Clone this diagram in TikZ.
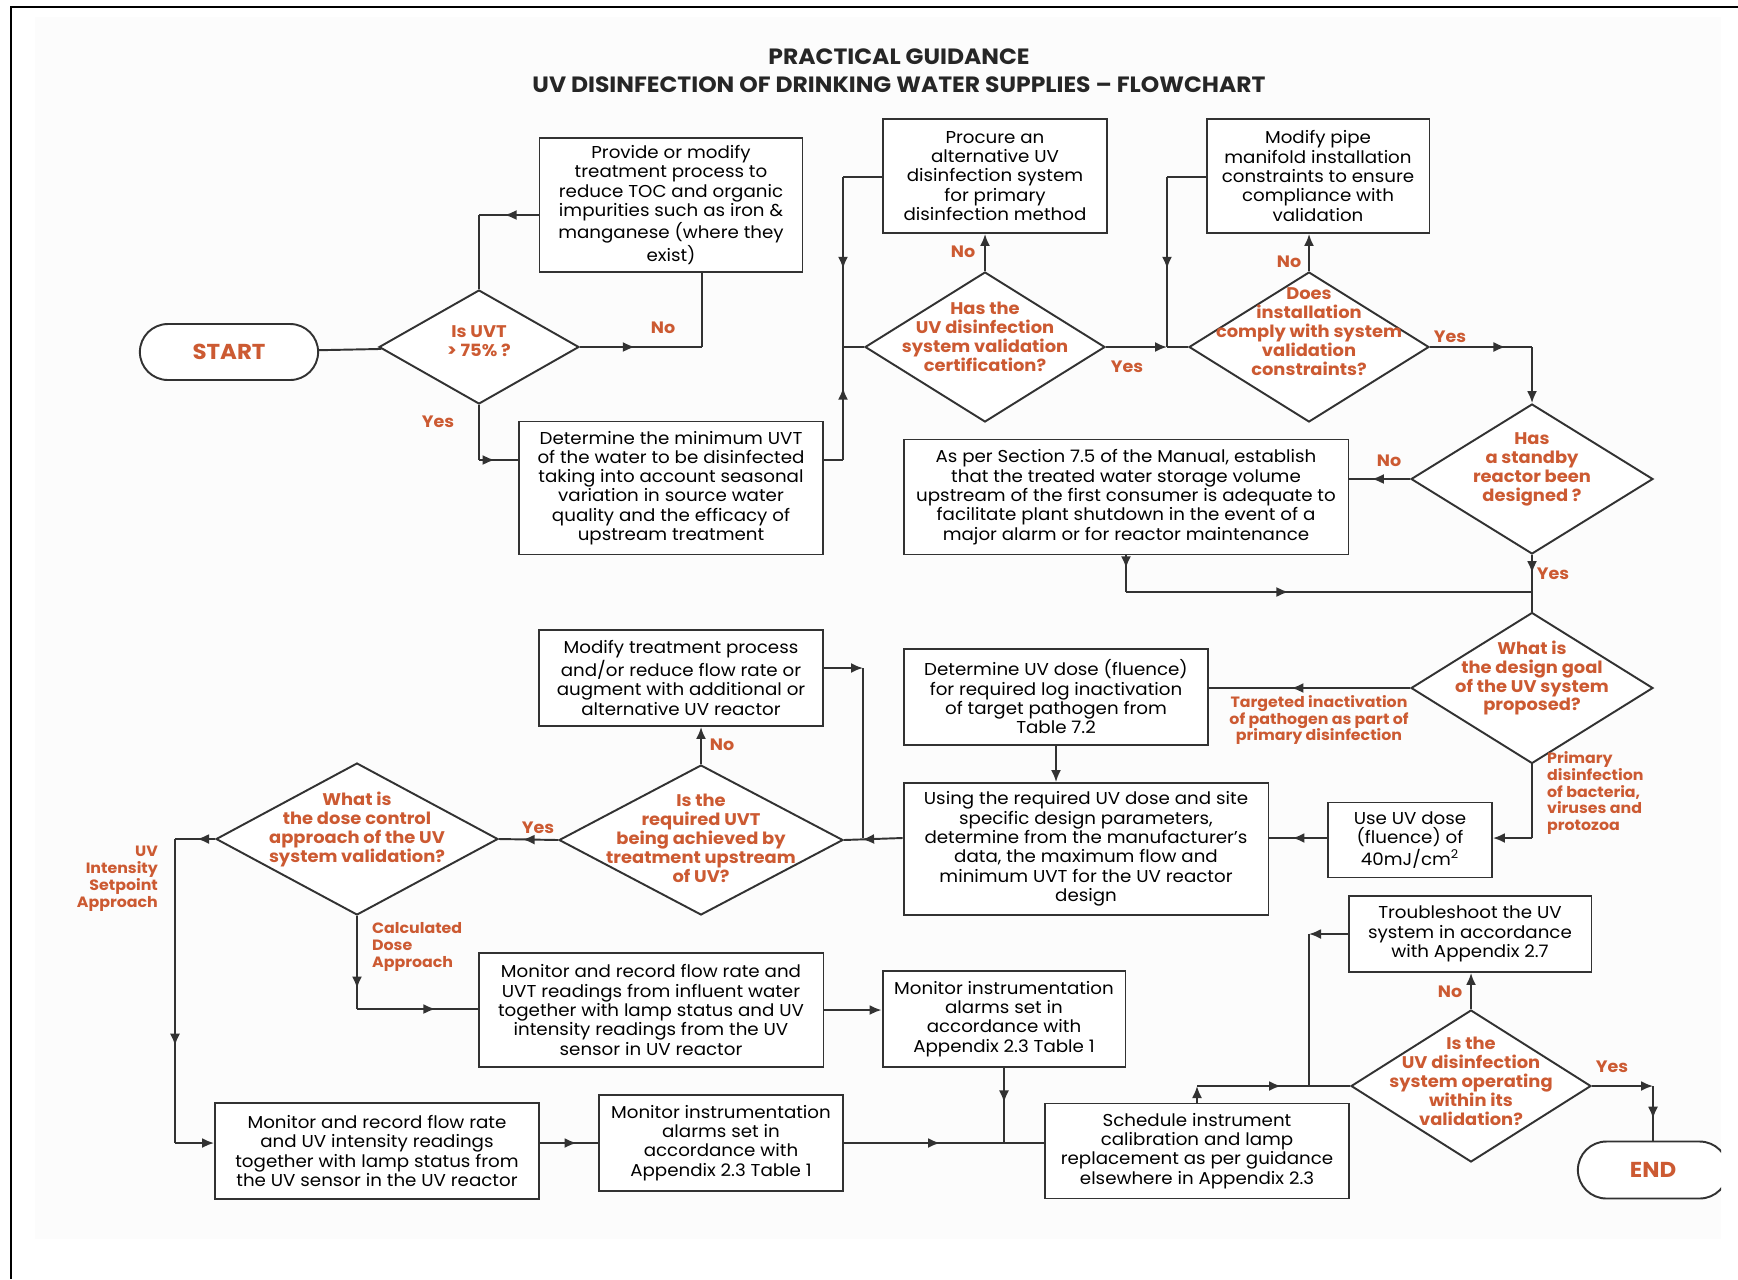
\documentclass[tikz,border=0pt]{standalone}
\usepackage{fontspec}
\setmainfont{Poppins}[FakeStretch=1.06]
\usepackage{tikz}
\usetikzlibrary{arrows.meta,positioning,shapes.geometric,shapes.misc,decorations.markings,calc}
\definecolor{uvorange}{RGB}{204,90,50}
\definecolor{uvline}{RGB}{50,50,50}

\begin{document}
\begin{tikzpicture}[x=0.02cm, y=-0.02cm,
    block/.style={rectangle, draw=uvline, line width=1.1pt, fill=white, inner sep=2pt, align=center, text=black, font=\fontsize{9.8}{11}\selectfont},
    decide/.style={diamond, draw=uvline, line width=1.1pt, fill=white, inner sep=0pt},
    ask/.style={align=center, text=uvorange, inner sep=0pt, font=\fontsize{9.6}{10.8}\selectfont\bfseries},
    term/.style={rounded rectangle, draw=uvline, line width=1.1pt, fill=white, text=uvorange, font=\fontsize{12.3}{15}\selectfont\bfseries},
    heading/.style={align=center, text=black!85, font=\fontsize{12.6}{16}\selectfont\bfseries},
    lab/.style={text=uvorange, inner sep=1pt, font=\fontsize{9.4}{11}\selectfont\bfseries},
    note/.style={text=uvorange, inner sep=1pt, font=\fontsize{8.5}{9.6}\selectfont\bfseries},
    link/.style={draw=uvline, line width=1.1pt},
    arrow/.style={link, -{Latex[length=2.4mm,width=2mm]}},
    midarrow/.style={link, postaction={decorate}, decoration={markings, mark=at position #1 with {\arrow{Latex[length=2.4mm,width=2mm]}}}},
    midarrow/.default=0.5
]
\useasboundingbox (0,0) rectangle (1738,1279);
\fill[black!1] (35,17) rectangle (1721,1239);
\draw[line width=1.4pt] (1738,7) -- (11,7) -- (11,1279);

\node[heading] (head) at (899,71) {PRACTICAL GUIDANCE\\UV DISINFECTION OF DRINKING WATER SUPPLIES -- FLOWCHART};

% top row
\node[term, minimum width=3.8cm, minimum height=1.12cm] (start) at (229,352) {START};
\node[decide, minimum width=4cm, minimum height=2.28cm] (uvt) at (479,347) {};
\node[ask] (uvt-q) at (479,341) {Is UVT\\> 75\% ?};
\node[block, minimum width=5.26cm, minimum height=2.68cm] (reduce) at (671,205) {Provide or modify\\treatment process to\\reduce TOC and organic\\impurities such as iron \&\\manganese (where they\\exist)};
\node[block, minimum width=6.08cm, minimum height=2.66cm] (minuvt) at (671,488) {Determine the minimum UVT\\of the water to be disinfected\\taking into account seasonal\\variation in source water\\quality and the efficacy of\\upstream treatment};
\node[block, minimum width=4.48cm, minimum height=2.28cm] (procure) at (995,176) {Procure an\\alternative UV\\disinfection system\\for primary\\disinfection method};
\node[decide, minimum width=4.8cm, minimum height=3cm] (cert) at (985,347) {};
\node[ask] (cert-q) at (985,337) {Has the\\UV disinfection\\system validation\\certification?};
\node[block, minimum width=4.46cm, minimum height=2.28cm] (pipe) at (1318,176) {Modify pipe\\manifold installation\\constraints to ensure\\compliance with\\validation};
\node[decide, minimum width=4.8cm, minimum height=3cm] (comply) at (1309,347) {};
\node[ask] (comply-q) at (1309,332) {Does\\installation\\comply with system\\validation\\constraints?};

% standby and design goal
\node[decide, minimum width=4.84cm, minimum height=3cm] (standby) at (1532,479) {};
\node[ask] (standby-q) at (1532,469) {Has\\a standby\\reactor been\\designed ?};
\node[block, minimum width=8.9cm, minimum height=2.3cm] (storage) at (1126,497) {As per Section 7.5 of the Manual, establish\\that the treated water storage volume\\upstream of the first consumer is adequate to\\facilitate plant shutdown in the event of a\\major alarm or for reactor maintenance};
\node[decide, minimum width=4.84cm, minimum height=3.02cm] (goal) at (1532,688) {};
\node[ask] (goal-q) at (1532,678) {What is\\the design goal\\of the UV system\\proposed?};
\node[block, minimum width=6.08cm, minimum height=1.92cm] (dose) at (1056,697) {Determine UV dose (fluence)\\for required log inactivation\\of target pathogen from\\Table 7.2};
\node[block, minimum width=3.28cm, minimum height=1.5cm] (fixed) at (1410,840) {Use UV dose\\(fluence) of\\40mJ/cm\textsuperscript{2}};
\node[block, minimum width=7.3cm, minimum height=2.64cm] (design) at (1086,849) {Using the required UV dose and site\\specific design parameters,\\determine from the manufacturer's\\data, the maximum flow and\\minimum UVT for the UV reactor\\design};

% dose control
\node[block, minimum width=5.68cm, minimum height=1.92cm] (modify) at (681,678) {Modify treatment process\\and/or reduce flow rate or\\augment with additional or\\alternative UV reactor};
\node[decide, minimum width=5.68cm, minimum height=3cm] (uvtreq) at (701,840) {};
\node[ask] (uvtreq-q) at (701,838) {Is the\\required UVT\\being achieved by\\treatment upstream\\of UV?};
\node[decide, minimum width=5.64cm, minimum height=3.04cm] (dosectl) at (357,839) {};
\node[ask] (dosectl-q) at (357,829) {What is\\the dose control\\approach of the UV\\system validation?};
\node[block, minimum width=6.9cm, minimum height=2.28cm] (monuvt) at (651,1010) {Monitor and record flow rate and\\UVT readings from influent water\\together with lamp status and UV\\intensity readings from the UV\\sensor in UV reactor};
\node[block, minimum width=6.48cm, minimum height=1.92cm] (monint) at (377,1151) {Monitor and record flow rate\\and UV intensity readings\\together with lamp status from\\the UV sensor in the UV reactor};
\node[block, minimum width=4.86cm, minimum height=1.92cm] (alarmA) at (1004,1019) {Monitor instrumentation\\alarms set in\\accordance with\\Appendix 2.3 Table 1};
\node[block, minimum width=4.88cm, minimum height=1.92cm] (alarmB) at (721,1143) {Monitor instrumentation\\alarms set in\\accordance with\\Appendix 2.3 Table 1};
\node[block, minimum width=6.08cm, minimum height=1.9cm] (sched) at (1197,1151) {Schedule instrument\\calibration and lamp\\replacement as per guidance\\elsewhere in Appendix 2.3};
\node[block, minimum width=4.86cm, minimum height=1.52cm] (trouble) at (1470,934) {Troubleshoot the UV\\system in accordance\\with Appendix 2.7};
\node[decide, minimum width=4.8cm, minimum height=3.04cm] (operating) at (1471,1086) {};
\node[ask] (operating-q) at (1471,1081) {Is the\\UV disinfection\\system operating\\within its\\validation?};
\begin{scope}
\clip (0,0) rectangle (1721,1279);
\node[term, minimum width=3.24cm, minimum height=1.14cm] (stop) at (1653,1170) {END};
\end{scope}

% branch labels
\node[lab] (uvt-no) at (663,328) {No};
\node[lab] (uvt-yes) at (438,422) {Yes};
\node[lab] (cert-no) at (963,252) {No};
\node[lab] (cert-yes) at (1127,367) {Yes};
\node[lab] (comply-no) at (1289,262) {No};
\node[lab] (comply-yes) at (1450,337) {Yes};
\node[lab] (standby-no) at (1389,461) {No};
\node[lab] (standby-yes) at (1553,574) {Yes};
\node[note, align=center] (goal-a) at (1319,720) {Targeted inactivation\\of pathogen as part of\\primary disinfection};
\node[note, align=left, anchor=west] (goal-b) at (1545,793) {Primary\\disinfection\\of bacteria,\\viruses and\\protozoa};
\node[lab] (uvtreq-no) at (722,745) {No};
\node[lab] (uvtreq-yes) at (538,828) {Yes};
\node[note, align=right, anchor=east] (dosectl-a) at (160,879) {UV\\Intensity\\Setpoint\\Approach};
\node[note, align=left, anchor=west] (dosectl-b) at (370,947) {Calculated\\Dose\\Approach};
\node[lab] (operating-no) at (1450,992) {No};
\node[lab] (operating-yes) at (1612,1067) {Yes};

% bend points
\coordinate (uvtno) at (702,347);
\coordinate (back) at (479,215);
\coordinate (yes1) at (479,460);
\coordinate (minout) at (843,460);
\coordinate (join1) at (843,347);
\coordinate (proc) at (843,177);
\coordinate (join2) at (1167,347);
\coordinate (pip) at (1167,177);
\coordinate (yes2) at (1532,347);
\coordinate (stor) at (1126,592);
\coordinate (join3) at (1532,592);
\coordinate (prim) at (1532,838);
\coordinate (modout) at (863,668);
\coordinate (join4) at (863,838);
\coordinate (left) at (175,839);
\coordinate (row) at (175,1143);
\coordinate (calc) at (357,1009);
\coordinate (up) at (1197,1086);
\coordinate (join6) at (1309,1086);
\coordinate (trb) at (1309,934);
\coordinate (yes3) at (1653,1086);

\draw[link] (start) -- (uvt);
\draw[midarrow=0.45] (uvt.east) -- (uvtno);
\draw[link] (uvtno) -- (uvtno |- reduce.south);
\draw[midarrow=0.57] (reduce.west |- back) -- (back);
\draw[link] (back) -- (uvt.north);
\draw[link] (uvt.south) -- (yes1);
\draw[midarrow=0.4] (yes1) -- (minuvt.west |- yes1);
\draw[link] (minuvt.east |- minout) -- (minout);
\draw[midarrow=0.64] (minout) -- (join1);
\draw[link] (procure.west |- proc) -- (proc);
\draw[midarrow=0.54] (proc) -- (join1);
\draw[link] (join1) -- (cert.west);
\draw[arrow] (cert.north) -- (cert.north |- procure.south);
\draw[arrow] (cert.east) -- (join2);
\draw[link] (pipe.west |- pip) -- (pip);
\draw[midarrow=0.54] (pip) -- (join2);
\draw[link] (join2) -- (comply.west);
\draw[arrow] (comply.north) -- (comply.north |- pipe.south);
\draw[midarrow=0.74] (comply.east) -- (yes2);
\draw[arrow] (yes2) -- (standby.north);
\draw[midarrow=0.63] (standby.west) -- (storage.east |- standby.west);
\draw[midarrow=0.35] (storage.south) -- (stor);
\draw[midarrow=0.4] (stor) -- (join3);
\draw[midarrow=0.32] (standby.south) -- (goal.north);
\draw[midarrow=0.59] (goal.west) -- (dose.east |- goal.west);
\draw[arrow] (dose.south) -- (dose.south |- design.north);
\draw[link] (goal.south) -- (prim);
\draw[arrow] (prim) -- (fixed.east |- prim);
\draw[midarrow=0.6] (fixed.west |- prim) -- (design.east |- prim);
\draw[midarrow=0.69] (design.west |- prim) -- (uvtreq.east);
\draw[arrow] (modify.east |- modout) -- (modout);
\draw[link] (modout) -- (join4);
\draw[arrow] (uvtreq.north) -- (uvtreq.north |- modify.south);
\draw[midarrow=0.6] (uvtreq.west) -- (dosectl.east);
\draw[midarrow=0.45] (dosectl.west) -- (left);
\draw[midarrow=0.68] (left) -- (row);
\draw[arrow] (row) -- (monint.west |- row);
\draw[midarrow=0.78] (dosectl.south) -- (calc);
\draw[midarrow=0.65] (calc) -- (monuvt.west |- calc);
\draw[arrow] (monuvt.east) -- (alarmA.west |- monuvt.east);
\draw[midarrow=0.46] (alarmA.south) -- (alarmA.south |- row);
\draw[midarrow=0.63] (monint.east |- row) -- (alarmB.west);
\draw[midarrow=0.48] (alarmB.east) -- (sched.west |- alarmB.east);
\draw[arrow] (sched.north) -- (up);
\draw[midarrow=0.75] (up) -- (join6);
\draw[link] (join6) -- (operating.west);
\draw[arrow] (trouble.west) -- (trb);
\draw[link] (trb) -- (join6);
\draw[arrow] (operating.north) -- (operating.north |- trouble.south);
\draw[arrow] (operating.east) -- (yes3);
\draw[midarrow=0.6] (yes3) -- (stop.north);
\end{tikzpicture}
\end{document}
